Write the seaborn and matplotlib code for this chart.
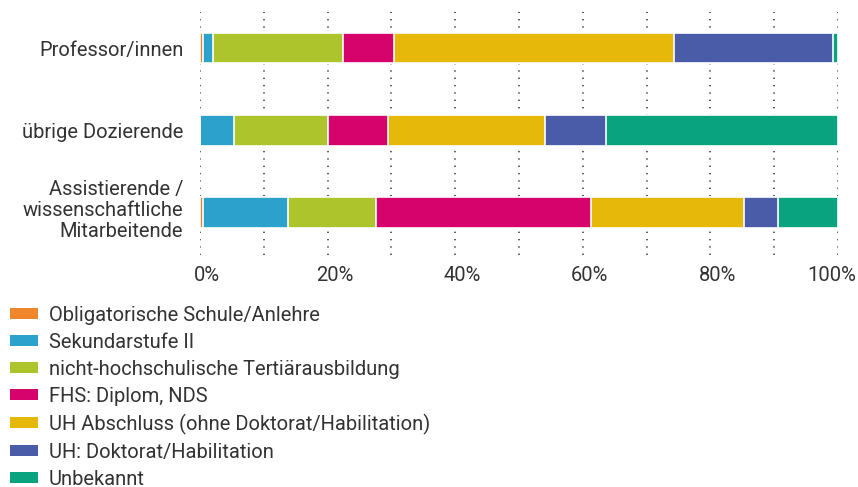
import pandas as pd
import matplotlib.pyplot as plt
import matplotlib.transforms as mtransforms
from matplotlib.patches import Patch
import seaborn as sns

# Data (shares in %)
groups = ["Professor/innen", "übrige Dozierende",
          "Assistierende /\nwissenschaftliche\nMitarbeitende"]
categories = ["Obligatorische Schule/Anlehre", "Sekundarstufe II",
              "nicht-hochschulische Tertiärausbildung", "FHS: Diplom, NDS",
              "UH Abschluss (ohne Doktorat/Habilitation)",
              "UH: Doktorat/Habilitation", "Unbekannt"]
obligatorisch = [0.5, 0.0, 0.5]
sekundar = [1.6, 5.3, 13.3]
tertiaer = [20.3, 14.7, 13.8]
fhs = [8.0, 9.5, 33.7]
uh_abschluss = [43.9, 24.6, 24.0]
uh_doktorat = [24.9, 9.6, 5.3]
unbekannt = [0.8, 36.3, 9.4]
colors = ["#F0862A", "#2BA1CC", "#AEC42C", "#D6036C",
          "#E6B80A", "#4A5CA8", "#0AA37F"]
tick_vals = [0, 20, 40, 60, 80, 100]
tick_labels = ["0%", "20%", "40%", "60%", "80%", "100%"]

values = [obligatorisch, sekundar, tertiaer, fhs, uh_abschluss, uh_doktorat, unbekannt]
df = pd.DataFrame(values, index=categories, columns=groups).T
cum = df.cumsum(axis=1)

sns.set_style("white")
plt.rcParams['font.family'] = ['Roboto', 'DejaVu Sans']
text_col = "#333333"
fs = 14.5

fig = plt.figure(figsize=(8.58, 4.87), dpi=100)
ax = fig.add_axes([0.2331, 0.4764, 0.7436, 0.499])

# dotted vertical grid every 10%
for g in range(0, 101, 10):
    ax.axvline(g, color="#333333", lw=1.1, ls=(0, (0.9, 3.9)), zorder=0)

# stacked bars: overlay cumulative sums, widest first
for cat, col in reversed(list(zip(categories, colors))):
    d = pd.DataFrame({"group": groups, "val": cum[cat].values})
    sns.barplot(data=d, x="val", y="group", orient="h", color=col,
                width=0.375, edgecolor="white", linewidth=1.2,
                errorbar=None, saturation=1, ax=ax, zorder=2)

ax.set_xlim(0, 100)
ax.set_ylim(2.52, -0.44)
ax.set_xlabel("")
ax.set_ylabel("")
sns.despine(ax=ax, left=True, bottom=True)
ax.set_xticks(tick_vals)
ax.set_xticklabels(tick_labels)
ax.tick_params(axis="both", length=0, labelsize=fs, labelcolor=text_col)
ax.tick_params(axis="x", pad=8)
ax.tick_params(axis="y", pad=12)
for lab in ax.get_yticklabels():
    lab.set_ha("right")
    lab.set_linespacing(1.13)
# the three-line label sits a bit higher in the original
ylab = ax.get_yticklabels()[2]
ylab.set_transform(ylab.get_transform() +
                   mtransforms.ScaledTranslation(0, 5 / 100, fig.dpi_scale_trans))

# shift x tick labels like the original
offsets = [7, 7, 7, 7, 7, -6]
for lab, dx in zip(ax.get_xticklabels(), offsets):
    lab.set_transform(lab.get_transform() +
                      mtransforms.ScaledTranslation(dx / 100, 0, fig.dpi_scale_trans))

handles = [Patch(facecolor=c, edgecolor="none") for c in colors]
fig.legend(handles, categories, loc="upper left", bbox_to_anchor=(0.012, 0.372),
           frameon=False, fontsize=fs, labelcolor=text_col,
           handlelength=1.39, handleheight=0.45, handletextpad=0.51,
           labelspacing=0.395, borderpad=0, borderaxespad=0)

fig.savefig("out.png", dpi=100)
